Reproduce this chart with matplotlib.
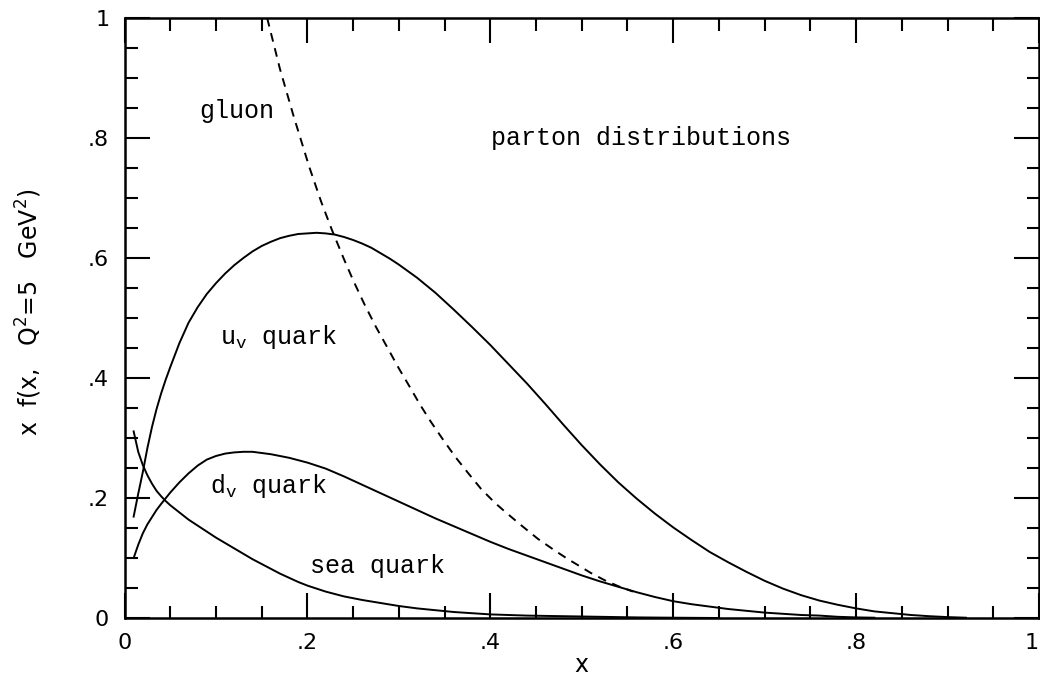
import matplotlib
matplotlib.use("Agg")
import matplotlib.pyplot as plt
from matplotlib.ticker import MultipleLocator, FixedLocator, FixedFormatter

# parton momentum distributions x f(x) at Q^2 = 5 GeV^2
uv_x = [0.010, 0.015, 0.020, 0.025, 0.030, 0.035, 0.040, 0.045, 0.050, 0.060,
        0.070, 0.080, 0.090, 0.100, 0.110, 0.120, 0.130, 0.140, 0.150, 0.160,
        0.170, 0.180, 0.190, 0.200, 0.210, 0.220, 0.230, 0.240, 0.250, 0.260,
        0.270, 0.280, 0.290, 0.300, 0.320, 0.340, 0.360, 0.380, 0.400, 0.420,
        0.440, 0.460, 0.480, 0.500, 0.520, 0.540, 0.560, 0.580, 0.600, 0.620,
        0.640, 0.660, 0.680, 0.700, 0.720, 0.740, 0.760, 0.780, 0.800, 0.820,
        0.840, 0.860, 0.880, 0.900, 0.920]
uv_y = [0.169, 0.207, 0.243, 0.283, 0.318, 0.348, 0.374, 0.397, 0.418, 0.458,
        0.492, 0.518, 0.540, 0.558, 0.574, 0.588, 0.600, 0.611, 0.620, 0.627,
        0.633, 0.637, 0.640, 0.641, 0.642, 0.641, 0.639, 0.635, 0.630, 0.624,
        0.617, 0.608, 0.599, 0.589, 0.567, 0.542, 0.514, 0.485, 0.455, 0.423,
        0.391, 0.357, 0.322, 0.288, 0.256, 0.226, 0.199, 0.174, 0.151, 0.130,
        0.110, 0.093, 0.077, 0.062, 0.049, 0.038, 0.029, 0.022, 0.016, 0.011,
        0.008, 0.005, 0.003, 0.0015, 0.0005]

dv_x = [0.010, 0.015, 0.020, 0.025, 0.030, 0.035, 0.040, 0.050, 0.060, 0.070,
        0.080, 0.090, 0.100, 0.110, 0.120, 0.130, 0.140, 0.150, 0.160, 0.170,
        0.180, 0.190, 0.200, 0.220, 0.240, 0.260, 0.280, 0.300, 0.320, 0.340,
        0.360, 0.380, 0.400, 0.420, 0.440, 0.460, 0.480, 0.500, 0.520, 0.540,
        0.560, 0.580, 0.600, 0.620, 0.640, 0.660, 0.680, 0.700, 0.720, 0.740,
        0.760, 0.780, 0.800, 0.820]
dv_y = [0.100, 0.122, 0.141, 0.156, 0.168, 0.180, 0.190, 0.209, 0.226, 0.241,
        0.254, 0.264, 0.270, 0.274, 0.276, 0.277, 0.277, 0.275, 0.273, 0.270,
        0.267, 0.263, 0.259, 0.249, 0.236, 0.222, 0.208, 0.194, 0.180, 0.166,
        0.153, 0.140, 0.127, 0.115, 0.104, 0.093, 0.082, 0.071, 0.061, 0.052,
        0.043, 0.035, 0.028, 0.023, 0.019, 0.015, 0.012, 0.009, 0.007, 0.005,
        0.004, 0.002, 0.001, 0.0005]

sea_x = [0.010, 0.015, 0.020, 0.025, 0.030, 0.035, 0.040, 0.045, 0.050, 0.060,
         0.070, 0.080, 0.090, 0.100, 0.110, 0.120, 0.130, 0.140, 0.150, 0.160,
         0.170, 0.180, 0.190, 0.200, 0.210, 0.220, 0.240, 0.260, 0.280, 0.300,
         0.320, 0.340, 0.360, 0.380, 0.400, 0.440, 0.480, 0.520, 0.560, 0.600,
         0.650]
sea_y = [0.311, 0.277, 0.255, 0.238, 0.224, 0.212, 0.203, 0.195, 0.188, 0.176,
         0.164, 0.154, 0.144, 0.134, 0.125, 0.116, 0.107, 0.098, 0.090, 0.082,
         0.074, 0.067, 0.060, 0.054, 0.049, 0.044, 0.036, 0.030, 0.025, 0.020,
         0.016, 0.013, 0.010, 0.008, 0.006, 0.004, 0.003, 0.002, 0.001, 0.0005,
         0.000]

gluon_x = [0.156, 0.170, 0.185, 0.202, 0.215, 0.227, 0.240, 0.250, 0.262, 0.275,
           0.287, 0.300, 0.312, 0.323, 0.335, 0.348, 0.362, 0.375, 0.390, 0.405,
           0.417, 0.435, 0.452, 0.470, 0.485, 0.496, 0.510, 0.525, 0.540, 0.556]
gluon_y = [1.000, 0.915, 0.836, 0.752, 0.694, 0.646, 0.598, 0.563, 0.524, 0.485,
           0.452, 0.416, 0.385, 0.356, 0.327, 0.298, 0.268, 0.243, 0.215, 0.192,
           0.176, 0.153, 0.132, 0.113, 0.098, 0.088, 0.075, 0.063, 0.053, 0.044]

tick_vals = [0, 0.2, 0.4, 0.6, 0.8, 1.0]
tick_text = ["0", ".2", ".4", ".6", ".8", "1"]

plt.rcParams["mathtext.fontset"] = "custom"
plt.rcParams["mathtext.rm"] = "Liberation Mono"
plt.rcParams["mathtext.sf"] = "DejaVu Sans"

fig = plt.figure(figsize=(10.4, 6.81), dpi=100)
ax = fig.add_axes([124.5 / 1040, 63 / 681, 914.5 / 1040, 600 / 681])

ax.plot(uv_x, uv_y, color="black", lw=1.4)
ax.plot(dv_x, dv_y, color="black", lw=1.4)
ax.plot(sea_x, sea_y, color="black", lw=1.4)
ax.plot(gluon_x, gluon_y, color="black", lw=1.4, dashes=(4.5, 3.5))

ax.set_xlim(0, 1)
ax.set_ylim(0, 1)

for axis in (ax.xaxis, ax.yaxis):
    axis.set_major_locator(FixedLocator(tick_vals))
    axis.set_major_formatter(FixedFormatter(tick_text))
    axis.set_minor_locator(MultipleLocator(0.05))

ax.tick_params(which="both", direction="in", top=True, right=True, width=1.5,
               color="black")
ax.tick_params(which="major", length=18, pad=11, labelsize=16)
ax.tick_params(which="minor", length=9)
for sp in ax.spines.values():
    sp.set_linewidth(1.8)

# keep the "1" at the right edge inside the figure
fig.canvas.draw()
ax.get_xticklabels()[-1].set_horizontalalignment("right")

ax.set_xlabel("x", fontsize=17, family="DejaVu Sans")
ax.xaxis.set_label_coords(0.5, -0.058)
ax.set_ylabel(r"x  f(x,   Q$^{\mathsf{2}}$=5   GeV$^{\mathsf{2}}$)", fontsize=17)
ax.yaxis.set_label_coords(-0.088, 0.51)

label_font = dict(family="Liberation Mono", fontsize=18, ha="left", va="baseline")
ax.text(0.082, 0.833, "gluon", **label_font)
ax.text(0.401, 0.788, "parton distributions", **label_font)
ax.text(0.104, 0.457, r"u$_{\mathrm{v}}$ quark", **label_font)
ax.text(0.093, 0.209, r"d$_{\mathrm{v}}$ quark", **label_font)
ax.text(0.203, 0.0745, "sea quark", **label_font)

fig.savefig("out.png", dpi=100)
